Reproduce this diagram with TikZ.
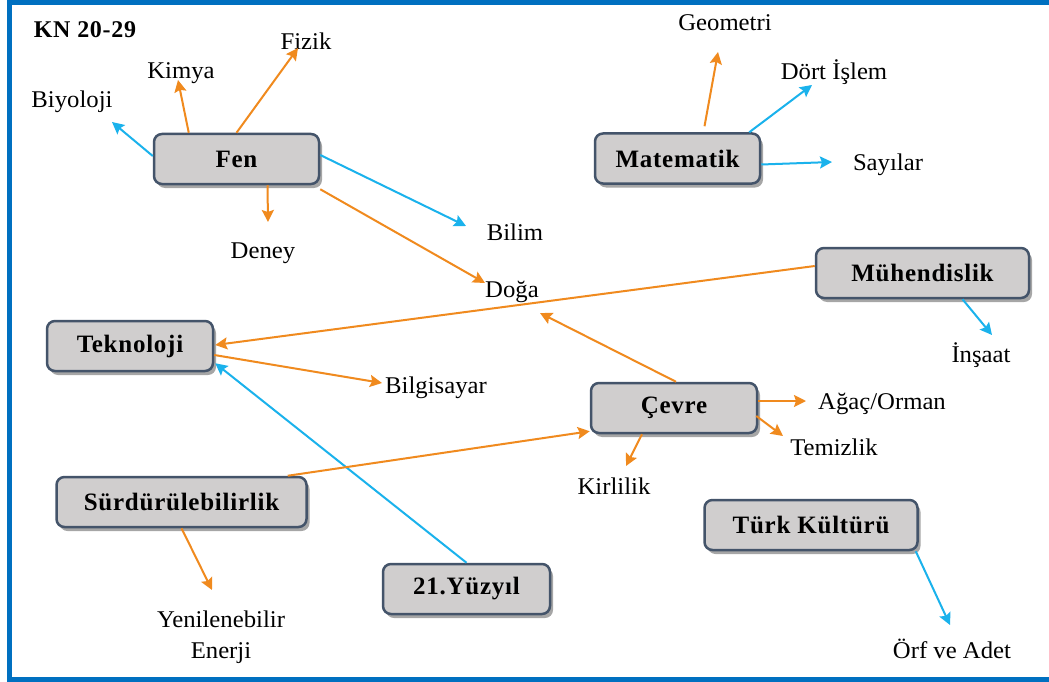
\documentclass[tikz,border=0pt]{standalone}
\usepackage{fontspec}
\setmainfont{Liberation Serif}
\usetikzlibrary{arrows.meta,shadows,calc}
\definecolor{frameblue}{HTML}{0070C0}
\definecolor{boxfill}{HTML}{D0CECE}
\definecolor{boxline}{HTML}{44546A}
\definecolor{org}{HTML}{F08A1E}
\definecolor{sky}{HTML}{1AB2EC}
\begin{document}
\begin{tikzpicture}[x=1pt,y=-1pt,
  box/.style={draw=boxline, line width=2.5pt, fill=boxfill, rounded corners=8pt,
    minimum height=50pt, inner sep=0pt,
    font=\fontsize{25}{29}\selectfont\bfseries\addfontfeature{LetterSpace=3},
    drop shadow={shadow xshift=3pt, shadow yshift=-4pt, opacity=0.35, fill=black}},
  leaf/.style={inner sep=0pt, align=center, font=\fontsize{24}{31}\selectfont\addfontfeature{FakeStretch=1.03}},
  oa/.style={draw=org, line width=2pt, -{Stealth[length=12pt,width=12pt,inset=2pt]}},
  ba/.style={draw=sky, line width=2pt, -{Stealth[length=12pt,width=12pt,inset=2pt]}}]
\useasboundingbox (0,0) rectangle (1049,682);
\fill[white] (0,0) rectangle (1049,682);
\draw[frameblue, line width=5pt] (9,3) rectangle (1070,679);

% title
\node[inner sep=0pt, font=\fontsize{24}{28}\selectfont\bfseries\addfontfeature{LetterSpace=3}] (title) at (85,30) {KN 20-29};

% boxes
\node[box, minimum width=165pt] (fen) at (236.5,159) {Fen};
\node[box, minimum width=165pt] (mat) at (677.5,158.5) {Matematik};
\node[box, minimum width=213pt] (muh) at (922.5,273) {Mühendislik};
\node[box, minimum width=166pt] (tek) at (130,346) {Teknoloji};
\node[box, minimum width=166pt] (cev) at (674,408) {Çevre};
\node[box, minimum width=250pt] (sur) at (181.5,502) {Sürdürülebilirlik};
\node[box, minimum width=167pt] (yuz) at (466.5,589) {21.Yüzyıl};
\node[box, minimum width=213pt] (turk) at (811,525) {Türk Kültürü};

% leaves
\node[leaf] (biy) at (72,102) {Biyoloji};
\node[leaf] (kim) at (181,73) {Kimya};
\node[leaf] (fiz) at (306,41) {Fizik};
\node[leaf] (den) at (263,253) {Deney};
\node[leaf] (bil) at (515,232) {Bilim};
\node[leaf] (dog) at (512,292) {Doğa};
\node[leaf] (geo) at (725,23) {Geometri};
\node[leaf] (dor) at (834,72) {Dört İşlem};
\node[leaf] (say) at (888,165) {Sayılar};
\node[leaf] (ins) at (981,355) {İnşaat};
\node[leaf] (bsy) at (436,388) {Bilgisayar};
\node[leaf] (aga) at (882,404) {Ağaç/Orman};
\node[leaf] (tem) at (834,447) {Temizlik};
\node[leaf] (kir) at (614,486) {Kirlilik};
\node[leaf] (yen) at (221,637) {Yenilenebilir\\Enerji};
\node[leaf] (orf) at (952,649) {Örf ve Adet};

% Fen
\draw[ba] ($(fen.west)+(0,-3)$) -- ($(biy.center)+(40,20)$);
\draw[oa] ($(fen.north west)+(36,0)$) -- ($(kim.center)+(-3,7)$);
\draw[oa] ($(fen.north)+(0,0)$) -- ($(fiz.center)+(-8,7)$);
\draw[oa] ($(fen.south)+(31,0)$) -- ($(den.center)+(5,-31)$);
\draw[ba] ($(fen.east)+(0,-4)$) -- ($(bil.center)+(-49,-6)$);
\draw[oa] ($(fen.south east)+(0,4)$) -- ($(dog.center)+(-27,-9)$);
% Matematik
\draw[oa] ($(mat.north)+(27,-6)$) -- ($(geo.center)+(-7,29)$);
\draw[ba] ($(mat.north east)+(-12,0)$) -- ($(dor.center)+(-22,13)$);
\draw[ba] ($(mat.east)+(0,6)$) -- ($(say.center)+(-56,-3)$);
% Muhendislik
\draw[oa] ($(muh.west)+(0,-7)$) -- ($(tek.east)+(1,-1)$);
\draw[ba] ($(muh.south)+(40,0)$) -- ($(ins.center)+(11,-20)$);
% Teknoloji
\draw[oa] ($(tek.east)+(0,9)$) -- ($(bsy.center)+(-54,-5)$);
% 21. Yuzyil
\draw[ba] (yuz.north) -- ($(tek.south east)+(1,-9)$);
% Cevre
\draw[oa] ($(cev.north)+(2,0)$) -- ($(dog.center)+(28,21)$);
\draw[oa] ($(cev.east)+(0,-7)$) -- ($(aga.center)+(-76,-3)$);
\draw[oa] ($(cev.east)+(-2,8)$) -- ($(tem.center)+(-51,-11)$);
\draw[oa] ($(cev.south)+(-32,0)$) -- ($(kir.center)+(12,-20)$);
% Surdurulebilirlik
\draw[oa] ($(sur.north east)+(-20,0)$) -- ($(cev.south west)+(0,-3)$);
\draw[oa] (sur.south) -- ($(yen.center)+(-9,-47)$);
% Turk Kulturu
\draw[ba] ($(turk.south east)+(-3,0)$) -- ($(orf.center)+(-2,-24)$);
\end{tikzpicture}
\end{document}
